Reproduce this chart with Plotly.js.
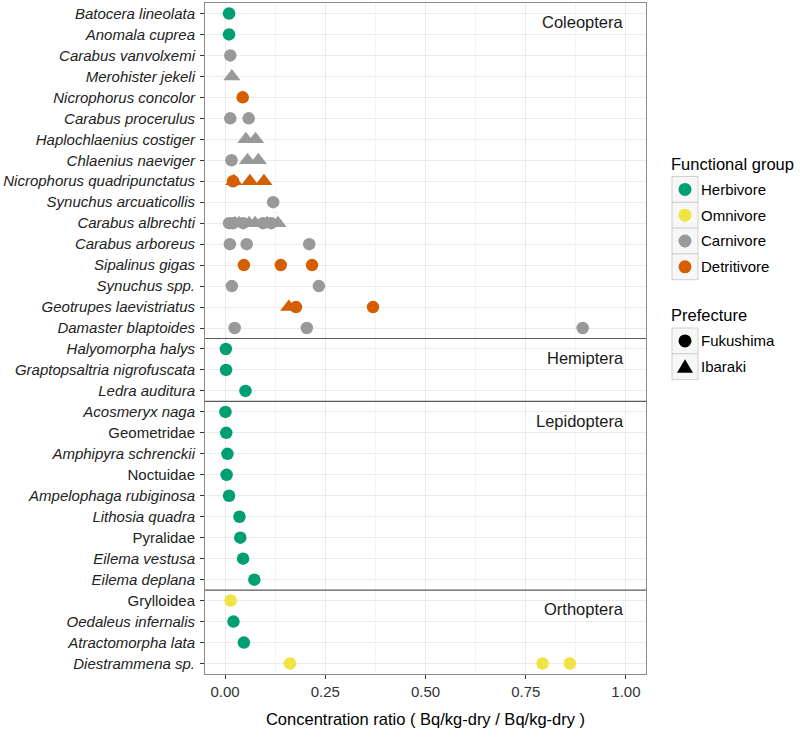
<!DOCTYPE html>
<html>
<head>
<meta charset="utf-8">
<script src="https://cdn.plot.ly/plotly-3.0.1.min.js"></script>
<style>html,body{margin:0;padding:0;background:#fff;}#chart{width:800px;height:736px;}</style>
</head>
<body>
<div id="chart"></div>
<script>
// ---------- DATA ----------
const orders = ['Coleoptera', 'Hemiptera', 'Lepidoptera', 'Orthoptera'];
const orderCounts = [16, 3, 9, 4];

const species = [
  'Batocera lineolata', 'Anomala cuprea', 'Carabus vanvolxemi', 'Merohister jekeli',
  'Nicrophorus concolor', 'Carabus procerulus', 'Haplochlaenius costiger', 'Chlaenius naeviger',
  'Nicrophorus quadripunctatus', 'Synuchus arcuaticollis', 'Carabus albrechti', 'Carabus arboreus',
  'Sipalinus gigas', 'Synuchus spp.', 'Geotrupes laevistriatus', 'Damaster blaptoides',
  'Halyomorpha halys', 'Graptopsaltria nigrofuscata', 'Ledra auditura',
  'Acosmeryx naga', 'Geometridae', 'Amphipyra schrenckii', 'Noctuidae', 'Ampelophaga rubiginosa',
  'Lithosia quadra', 'Pyralidae', 'Eilema vestusa', 'Eilema deplana',
  'Grylloidea', 'Oedaleus infernalis', 'Atractomorpha lata', 'Diestrammena sp.'
];
const notItalic = ['Geometridae', 'Noctuidae', 'Pyralidae', 'Grylloidea'];

const groups = ['Herbivore', 'Omnivore', 'Carnivore', 'Detritivore'];
const groupColors = ['#009E73', '#F0E442', '#999999', '#D55E00'];
const prefectures = ['Fukushima', 'Ibaraki'];

// points: species, ratio, functional group, prefecture
const ptSpecies = [
  'Batocera lineolata', 'Anomala cuprea', 'Carabus vanvolxemi', 'Merohister jekeli',
  'Nicrophorus concolor',
  'Carabus procerulus', 'Carabus procerulus',
  'Haplochlaenius costiger', 'Haplochlaenius costiger',
  'Chlaenius naeviger', 'Chlaenius naeviger', 'Chlaenius naeviger',
  'Nicrophorus quadripunctatus', 'Nicrophorus quadripunctatus', 'Nicrophorus quadripunctatus', 'Nicrophorus quadripunctatus',
  'Synuchus arcuaticollis',
  'Carabus albrechti', 'Carabus albrechti', 'Carabus albrechti', 'Carabus albrechti', 'Carabus albrechti',
  'Carabus albrechti', 'Carabus albrechti', 'Carabus albrechti', 'Carabus albrechti', 'Carabus albrechti', 'Carabus albrechti',
  'Carabus arboreus', 'Carabus arboreus', 'Carabus arboreus',
  'Sipalinus gigas', 'Sipalinus gigas', 'Sipalinus gigas',
  'Synuchus spp.', 'Synuchus spp.',
  'Geotrupes laevistriatus', 'Geotrupes laevistriatus', 'Geotrupes laevistriatus',
  'Damaster blaptoides', 'Damaster blaptoides', 'Damaster blaptoides',
  'Halyomorpha halys', 'Graptopsaltria nigrofuscata', 'Ledra auditura',
  'Acosmeryx naga', 'Geometridae', 'Amphipyra schrenckii', 'Noctuidae', 'Ampelophaga rubiginosa',
  'Lithosia quadra', 'Pyralidae', 'Eilema vestusa', 'Eilema deplana',
  'Grylloidea', 'Oedaleus infernalis', 'Atractomorpha lata',
  'Diestrammena sp.', 'Diestrammena sp.', 'Diestrammena sp.'
];
const ptRatio = [
  0.010, 0.010, 0.013, 0.017,
  0.044,
  0.013, 0.059,
  0.052, 0.076,
  0.016, 0.056, 0.083,
  0.020, 0.022, 0.062, 0.097,
  0.120,
  0.010, 0.020, 0.045, 0.095, 0.115,
  0.025, 0.035, 0.060, 0.075, 0.105, 0.132,
  0.012, 0.054, 0.210,
  0.047, 0.139, 0.217,
  0.017, 0.234,
  0.159, 0.177, 0.369,
  0.024, 0.204, 0.892,
  0.002, 0.0025, 0.051,
  0.001, 0.003, 0.006, 0.004, 0.010,
  0.036, 0.038, 0.045, 0.073,
  0.014, 0.021, 0.047,
  0.162, 0.792, 0.860
];
const ptGroup = [
  'Herbivore', 'Herbivore', 'Carnivore', 'Carnivore',
  'Detritivore',
  'Carnivore', 'Carnivore',
  'Carnivore', 'Carnivore',
  'Carnivore', 'Carnivore', 'Carnivore',
  'Detritivore', 'Detritivore', 'Detritivore', 'Detritivore',
  'Carnivore',
  'Carnivore', 'Carnivore', 'Carnivore', 'Carnivore', 'Carnivore',
  'Carnivore', 'Carnivore', 'Carnivore', 'Carnivore', 'Carnivore', 'Carnivore',
  'Carnivore', 'Carnivore', 'Carnivore',
  'Detritivore', 'Detritivore', 'Detritivore',
  'Carnivore', 'Carnivore',
  'Detritivore', 'Detritivore', 'Detritivore',
  'Carnivore', 'Carnivore', 'Carnivore',
  'Herbivore', 'Herbivore', 'Herbivore',
  'Herbivore', 'Herbivore', 'Herbivore', 'Herbivore', 'Herbivore',
  'Herbivore', 'Herbivore', 'Herbivore', 'Herbivore',
  'Omnivore', 'Herbivore', 'Herbivore',
  'Omnivore', 'Omnivore', 'Omnivore'
];
const ptPref = [
  'Fukushima', 'Fukushima', 'Fukushima', 'Ibaraki',
  'Fukushima',
  'Fukushima', 'Fukushima',
  'Ibaraki', 'Ibaraki',
  'Fukushima', 'Ibaraki', 'Ibaraki',
  'Fukushima', 'Ibaraki', 'Ibaraki', 'Ibaraki',
  'Fukushima',
  'Fukushima', 'Fukushima', 'Fukushima', 'Fukushima', 'Fukushima',
  'Ibaraki', 'Ibaraki', 'Ibaraki', 'Ibaraki', 'Ibaraki', 'Ibaraki',
  'Fukushima', 'Fukushima', 'Fukushima',
  'Fukushima', 'Fukushima', 'Fukushima',
  'Fukushima', 'Fukushima',
  'Ibaraki', 'Fukushima', 'Fukushima',
  'Fukushima', 'Fukushima', 'Fukushima',
  'Fukushima', 'Fukushima', 'Fukushima',
  'Fukushima', 'Fukushima', 'Fukushima', 'Fukushima', 'Fukushima',
  'Fukushima', 'Fukushima', 'Fukushima', 'Fukushima',
  'Fukushima', 'Fukushima', 'Fukushima',
  'Fukushima', 'Fukushima', 'Fukushima'
];

const xTickVals = [0, 0.25, 0.5, 0.75, 1.0];
const xTitle = 'Concentration ratio ( Bq/kg-dry / Bq/kg-dry )';

// ---------- LAYOUT CONSTANTS ----------
const W = 800, H = 736;
const M = {l: 205, r: 154, t: 3, b: 62};
const plotW = W - M.l - M.r, plotH = H - M.t - M.b;
const px2x = p => (p - M.l) / plotW;
const py2y = p => (H - M.b - p) / plotH;
const FONT = 'Liberation Sans, Arial, Helvetica, sans-serif';

// ---------- TRACES ----------
const traces = [];
groups.forEach((g, gi) => {
  prefectures.forEach(pf => {
    const xs = [], ys = [];
    ptRatio.forEach((v, i) => {
      if (ptGroup[i] === g && ptPref[i] === pf) { xs.push(v); ys.push(ptSpecies[i]); }
    });
    if (!xs.length) return;
    traces.push({
      type: 'scatter', mode: 'markers', x: xs, y: ys,
      name: g + ' / ' + pf, showlegend: false, hoverinfo: 'x+y',
      marker: {
        color: groupColors[gi],
        symbol: pf === 'Fukushima' ? 'circle' : 'triangle-up',
        size: pf === 'Fukushima' ? 12.5 : 15,
        line: {width: 0}
      }
    });
  });
});

// ---------- SHAPES / ANNOTATIONS ----------
const shapes = [];
const annotations = [];

// facet separators + facet labels
let cum = 0;
orders.forEach((o, k) => {
  annotations.push({
    text: o, x: 1.0, xref: 'x', xanchor: 'right',
    y: cum + 0.42, yref: 'y', yanchor: 'middle',
    showarrow: false, font: {family: FONT, size: 16.5, color: '#1a1a1a'}
  });
  cum += orderCounts[k];
  if (k < orders.length - 1) {
    shapes.push({type: 'line', xref: 'paper', x0: 0, x1: 1, yref: 'y', y0: cum - 0.5, y1: cum - 0.5,
      line: {color: '#5a5a5a', width: 1.1}, layer: 'above'});
  }
});

// manual legends
const legX = 672, keyW = 26, keyH = 25.8, symX = 685, txtX = 701;
function legendBlock(title, titleY, topY, labels, drawSym) {
  annotations.push({text: title, xref: 'paper', yref: 'paper', x: px2x(legX - 3), y: py2y(titleY),
    xanchor: 'left', yanchor: 'middle', showarrow: false, font: {family: FONT, size: 16.5, color: '#000'}});
  labels.forEach((lab, i) => {
    const y0 = topY + i * keyH, cy = y0 + keyH / 2;
    shapes.push({type: 'rect', xref: 'paper', yref: 'paper',
      x0: px2x(legX), x1: px2x(legX + keyW), y0: py2y(y0), y1: py2y(y0 + keyH),
      fillcolor: '#f7f7f7', line: {color: '#d0d0d0', width: 1}});
    drawSym(i, cy);
    annotations.push({text: lab, xref: 'paper', yref: 'paper', x: px2x(txtX - 2), y: py2y(cy),
      xanchor: 'left', yanchor: 'middle', showarrow: false, font: {family: FONT, size: 15, color: '#000'}});
  });
}
legendBlock('Functional group', 164, 176.5, groups, (i, cy) => {
  shapes.push({type: 'circle', xref: 'paper', yref: 'paper', xsizemode: 'pixel', ysizemode: 'pixel',
    xanchor: px2x(symX), yanchor: py2y(cy), x0: -6.5, x1: 6.5, y0: -6.5, y1: 6.5,
    fillcolor: groupColors[i], line: {width: 0}});
});
legendBlock('Prefecture', 315, 328, prefectures, (i, cy) => {
  if (i === 0) {
    shapes.push({type: 'circle', xref: 'paper', yref: 'paper', xsizemode: 'pixel', ysizemode: 'pixel',
      xanchor: px2x(symX), yanchor: py2y(cy), x0: -6.5, x1: 6.5, y0: -6.5, y1: 6.5,
      fillcolor: '#000', line: {width: 0}});
  } else {
    shapes.push({type: 'path', xref: 'paper', yref: 'paper', xsizemode: 'pixel', ysizemode: 'pixel',
      xanchor: px2x(symX), yanchor: py2y(cy), path: 'M -8 -6 L 8 -6 L 0 7.5 Z',
      fillcolor: '#000', line: {width: 0}});
  }
});

const layout = {
  width: W, height: H,
  margin: M,
  paper_bgcolor: '#ffffff', plot_bgcolor: '#ffffff',
  font: {family: FONT, color: '#222'},
  showlegend: false,
  xaxis: {
    range: [-0.05, 1.05], tickvals: xTickVals, ticktext: xTickVals.map(v => v.toFixed(2)),
    ticks: 'outside', ticklen: 4, tickcolor: '#333', tickwidth: 1,
    tickfont: {family: FONT, size: 15, color: '#333'},
    showgrid: true, gridcolor: '#ebebeb', gridwidth: 1,
    minor: {tickvals: [0.125, 0.375, 0.625, 0.875], showgrid: true, gridcolor: '#f4f4f4', gridwidth: 1, ticks: ''},
    zeroline: false, showline: true, mirror: true, linecolor: '#8c8c8c', linewidth: 1,
    title: {text: xTitle, font: {family: FONT, size: 16.5, color: '#000'}, standoff: 14}
  },
  yaxis: {
    type: 'category', categoryorder: 'array', categoryarray: species,
    range: [species.length - 0.5, -0.5],
    tickvals: species,
    ticktext: species.map(s => notItalic.includes(s) ? s : '<i>' + s + '</i>'),
    ticks: 'outside', ticklen: 4, tickcolor: '#333', tickwidth: 1,
    ticklabelstandoff: 2,
    tickfont: {family: FONT, size: 15, color: '#222'},
    showgrid: true, gridcolor: '#ebebeb', gridwidth: 1,
    zeroline: false, showline: true, mirror: true, linecolor: '#8c8c8c', linewidth: 1
  },
  shapes: shapes,
  annotations: annotations
};

Plotly.newPlot('chart', traces, layout, {displayModeBar: false, staticPlot: true});
</script>
</body>
</html>
